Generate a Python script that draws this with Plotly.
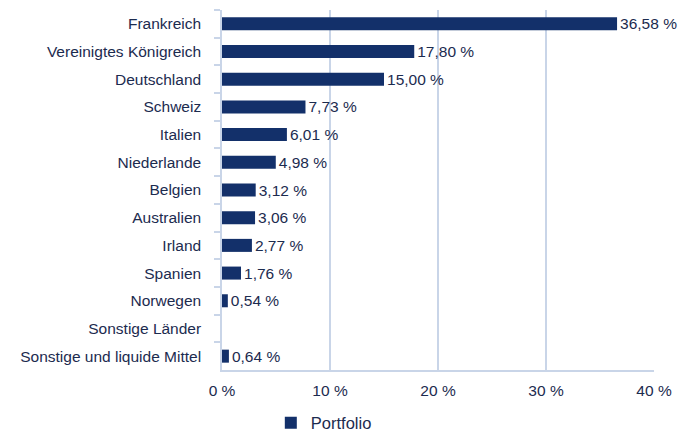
import plotly.graph_objects as go

categories = ["Frankreich", "Vereinigtes Königreich", "Deutschland", "Schweiz", "Italien",
              "Niederlande", "Belgien", "Australien", "Irland", "Spanien", "Norwegen",
              "Sonstige Länder", "Sonstige und liquide Mittel"]
values = [36.58, 17.80, 15.00, 7.73, 6.01, 4.98, 3.12, 3.06, 2.77, 1.76, 0.54, None, 0.64]
tick_vals = [0, 10, 20, 30, 40]

bar_color = "#13306a"
text_color = "#1c2b4f"
grid_color = "#c9d5e8"

labels = ["" if v is None else f"{v:.2f}".replace(".", ",") + " %" for v in values]

fig = go.Figure(go.Bar(
    y=categories, x=values, orientation="h", name="Portfolio",
    marker=dict(color=bar_color, line=dict(width=0)),
    text=labels, textposition="outside", cliponaxis=False, constraintext="none",
    textfont=dict(color=text_color, size=15.5),
))

fig.update_layout(
    width=683, height=424,
    margin=dict(l=214, r=37, t=2, b=62, autoexpand=False),
    paper_bgcolor="white", plot_bgcolor="white",
    font=dict(family="Liberation Sans, Arial, sans-serif", size=15.5, color=text_color),
    bargap=0.53,
    showlegend=True,
    legend=dict(orientation="h", xref="paper", yref="paper",
                x=0.113, xanchor="left", y=-0.147, yanchor="middle",
                bgcolor="rgba(0,0,0,0)",
                font=dict(size=16.5, color=text_color), itemwidth=30),
    xaxis=dict(range=[0, 40], tickvals=tick_vals, ticktext=[f"{t} %" for t in tick_vals],
               showgrid=True, gridcolor=grid_color, gridwidth=1.5,
               showline=True, linecolor=grid_color, linewidth=1.5,
               zeroline=False, ticks="", tickfont=dict(size=15.5, color=text_color),
               ticklabelstandoff=6, fixedrange=True, automargin=False),
    yaxis=dict(autorange="reversed", showline=True, linecolor=grid_color, linewidth=1.5,
               ticks="outside", tickson="boundaries", ticklen=6, tickcolor=grid_color,
               tickwidth=1.5, showgrid=False, automargin=False, ticklabelstandoff=16,
               tickfont=dict(size=15.5, color=text_color)),
)

fig.write_html("out.html")
